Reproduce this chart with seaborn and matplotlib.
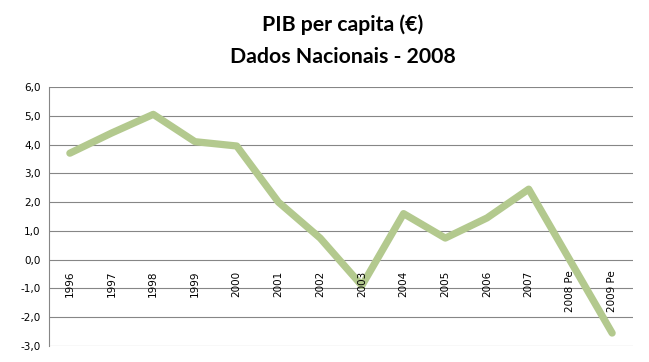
import pandas as pd
import matplotlib.pyplot as plt
import seaborn as sns

anos = ["1996", "1997", "1998", "1999", "2000", "2001", "2002", "2003",
        "2004", "2005", "2006", "2007", "2008 Pe", "2009 Pe"]
pib = [3.7, 4.4, 5.05, 4.1, 3.95, 2.0, 0.75, -0.9, 1.6, 0.75, 1.45, 2.45, -0.05, -2.55]
y_ticks = [6, 5, 4, 3, 2, 1, 0, -1, -2, -3]

df = pd.DataFrame({"ano": anos, "pib": pib})
df["pos"] = range(len(df))

sns.set_style("white")
fig = plt.figure(figsize=(6.49, 3.62), dpi=100)
ax = fig.add_axes([49 / 649, 16 / 362, 584 / 649, 259 / 362])

sns.lineplot(data=df, x="pos", y="pib", color="#B3C98E", linewidth=5.2,
             solid_capstyle="round", solid_joinstyle="round", ax=ax)

ax.set_xlim(-0.5, len(anos) - 0.5)
ax.set_ylim(-3, 6)
ax.set_yticks(y_ticks)
ax.set_yticklabels([f"{v:.1f}".replace(".", ",") for v in y_ticks],
                   fontsize=7.5, family="DejaVu Sans", color="black")
ax.tick_params(axis="y", length=0, pad=6)
ax.set_xticks([])
for i, a in enumerate(anos):
    ax.text(i, -0.38, a, rotation=90, ha="center", va="top",
            fontsize=7.5, family="DejaVu Sans", color="black")

ax.grid(axis="y", color="#868686", linewidth=0.8)
ax.set_axisbelow(True)
for s in ["top", "right", "bottom"]:
    ax.spines[s].set_visible(False)
ax.spines["left"].set_color("#868686")
ax.spines["left"].set_linewidth(0.8)
ax.set_xlabel("")
ax.set_ylabel("")

fig.text(343 / 649, 1 - 25 / 362, "PIB per capita (€)", ha="center", va="center",
         fontsize=15.3, fontweight="bold", family="Lato", color="black")
fig.text(343 / 649, 1 - 57 / 362, "Dados Nacionais - 2008", ha="center", va="center",
         fontsize=15.3, fontweight="bold", family="Lato", color="black")

fig.savefig("out.png", dpi=100)
